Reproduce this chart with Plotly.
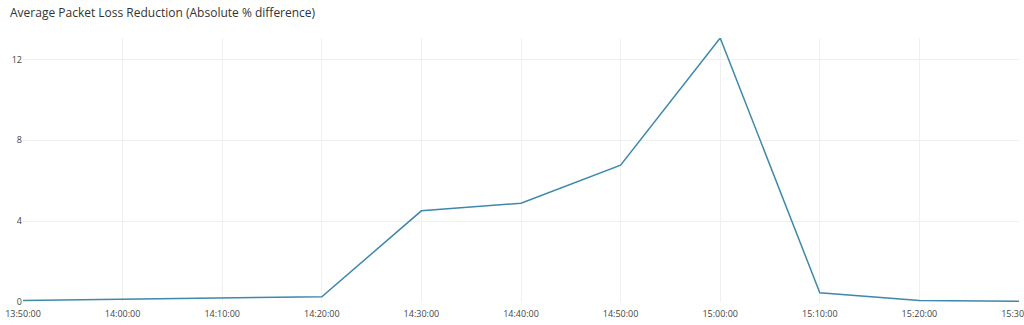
import plotly.graph_objects as go

times = ["13:50:00", "14:00:00", "14:10:00", "14:20:00", "14:30:00", "14:40:00",
         "14:50:00", "15:00:00", "15:10:00", "15:20:00", "15:30:00"]
loss_reduction = [0.08, 0.15, 0.2, 0.26, 4.51, 4.89, 6.77, 13.06, 0.46, 0.08, 0.04]
y_ticks = [0, 4, 8, 12]

day = "2020-01-01 "
x = [day + t for t in times]

fig = go.Figure()
fig.add_trace(go.Scatter(
    x=x, y=loss_reduction, mode="lines",
    line=dict(color="#3f88aa", width=1.5),
    hoverinfo="x+y",
))

fig.update_layout(
    width=1024, height=325,
    margin=dict(l=23, r=5, t=38, b=23),
    paper_bgcolor="white", plot_bgcolor="white",
    font=dict(family="Open Sans", color="#444"),
    title=dict(text="Average Packet Loss Reduction (Absolute % difference)",
               x=10 / 1024, xanchor="left",
               y=1 - 13 / 325, yanchor="middle", yref="container",
               font=dict(size=12, color="#333", family="Open Sans")),
    showlegend=False,
)
fig.update_layout(title_xref="container")
fig.update_xaxes(
    range=[x[0], x[-1]],
    tickvals=x, ticktext=times,
    showgrid=True, gridcolor="#f0f0f0", gridwidth=1,
    zeroline=False, showline=False, ticks="",
    tickfont=dict(size=9, color="#444"),
    ticklabeloverflow="allow",
    ticklabelstandoff=5,
    automargin=False,
)
fig.update_yaxes(
    range=[0, max(loss_reduction)],
    tickvals=y_ticks,
    showgrid=True, gridcolor="#f0f0f0", gridwidth=1,
    zeroline=False, showline=False, ticks="",
    tickfont=dict(size=9, color="#444"),
    automargin=False,
)

fig.write_html("out.html")
